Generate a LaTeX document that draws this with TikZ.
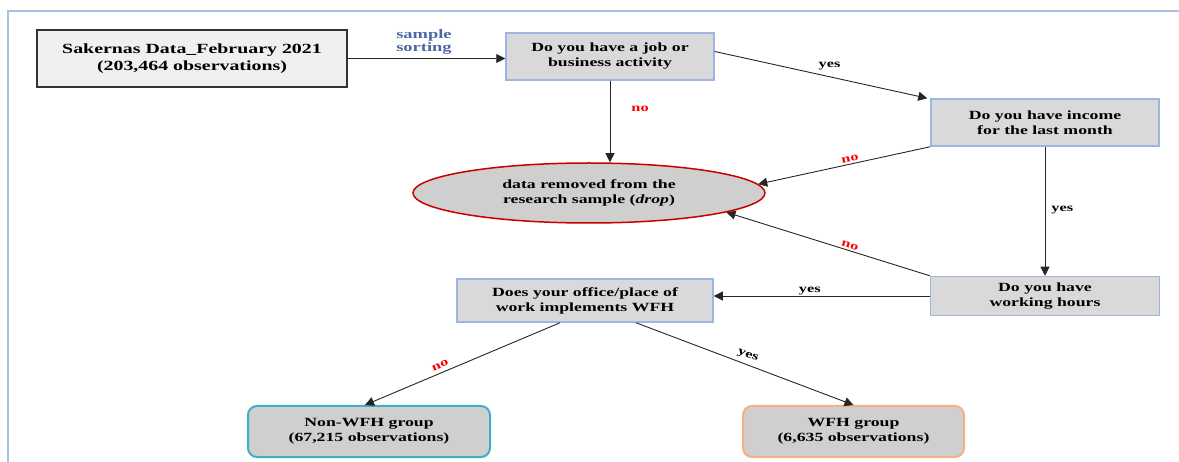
\documentclass[tikz,border=0pt]{standalone}
\usepackage{fontspec}
\setmainfont{Liberation Serif}[FakeStretch=1.42]
\usetikzlibrary{arrows.meta,shapes.geometric}
\definecolor{frameblue}{HTML}{A9C1E3}
\definecolor{boxblue}{HTML}{9DB5E2}
\definecolor{boxgray}{HTML}{D9D9D9}
\definecolor{ellgray}{HTML}{CFCFCF}
\definecolor{ellred}{HTML}{C80000}
\definecolor{tealc}{HTML}{3AB2C0}
\definecolor{orng}{HTML}{F4B183}
\definecolor{grpgray}{HTML}{D0CECE}
\definecolor{sortblue}{HTML}{4A68A6}
\definecolor{nored}{HTML}{FF0000}
\tikzset{
  txt/.style={font=\bfseries\fontsize{12.5}{15}\selectfont, align=center, inner sep=0pt},
  qbox/.style={txt, draw=boxblue, line width=1.5pt, fill=boxgray},
  grpbox/.style={txt, line width=2pt, fill=grpgray, rounded corners=9pt},
  arr/.style={draw=black!85, line width=0.9pt, -{Triangle[length=9pt,width=9pt]}},
  nolab/.style={text=nored, font=\bfseries\fontsize{11.5}{13}\selectfont, inner sep=1pt},
  yeslab/.style={text=black, font=\bfseries\fontsize{11.5}{13}\selectfont, inner sep=1pt},
}
\begin{document}
\begin{tikzpicture}[x=1pt,y=-1pt]
\useasboundingbox (0,0) rectangle (1179,462);
% frame
\draw[frameblue, line width=1.5pt] (8,462) -- (8,11) -- (1179,11);
% nodes
\node[txt, draw=black!80, line width=1.3pt, fill=black!6, minimum width=310pt, minimum height=57pt,
      font=\bfseries\fontsize{14}{17}\selectfont] (sak) at (192,58.5)
  {Sakernas Data\_February 2021\\(203,464 observations)};
\node[qbox, minimum width=208pt, minimum height=47pt] (job) at (610,56.5)
  {Do you have a job or\\business activity};
\node[qbox, minimum width=228pt, minimum height=47pt] (inc) at (1045,122.5)
  {Do you have income\\for the last month};
\node[qbox, minimum width=229pt, minimum height=39pt] (work) at (1045,296)
  {Do you have\\working hours};
\node[qbox, minimum width=256pt, minimum height=43pt] (wfhq) at (585,300.5)
  {Does your office/place of\\work implements WFH};
\node[txt, ellipse, draw=ellred, line width=1.5pt, fill=ellgray, minimum width=352pt, minimum height=60pt, inner sep=0pt] (drop) at (589,193)
  {data removed from the\\research sample (\textit{drop})};
\node[grpbox, draw=tealc, minimum width=242pt, minimum height=51pt] (non) at (369,431.5)
  {Non-WFH group\\(67,215 observations)};
\node[grpbox, draw=orng, minimum width=221pt, minimum height=51pt] (wfh) at (853.5,431.5)
  {WFH group\\(6,635 observations)};
\node[text=sortblue, font=\bfseries\fontsize{13}{10}\selectfont, align=left, inner sep=0pt] (sort) at (424,42)
  {sample\\sorting};
% connectors
\draw[arr] (sak.east) -- (sak.east -| job.west);
\draw[arr] ([yshift=5pt]job.east) -- node[yeslab, pos=0.54, above=5pt] {yes} ([xshift=-3pt]inc.north west);
\draw[arr] (job.south) -- node[nolab, pos=0.35, right=20pt] {no} (job.south |- drop.north);
\draw[arr] (inc.south west) -- node[nolab, pos=0.46, above=1pt, sloped] {no} (drop.3);
\draw[arr] (inc.south) -- node[yeslab, pos=0.49, right=5pt] {yes} (work.north);
\draw[arr] (work.north west) -- node[nolab, pos=0.4, above=1pt, sloped] {no} (drop.-8);
\draw[arr] (work.west) -- node[yeslab, pos=0.555, above=0pt] {yes} (work.west -| wfhq.east);
\draw[arr] ([xshift=-25pt]wfhq.south) -- node[nolab, pos=0.6, above=3pt, sloped] {no} ([xshift=-4pt]non.north);
\draw[arr] ([xshift=51pt]wfhq.south) -- node[yeslab, pos=0.5, above=3pt, sloped] {yes} (wfh.north);
\end{tikzpicture}
\end{document}
